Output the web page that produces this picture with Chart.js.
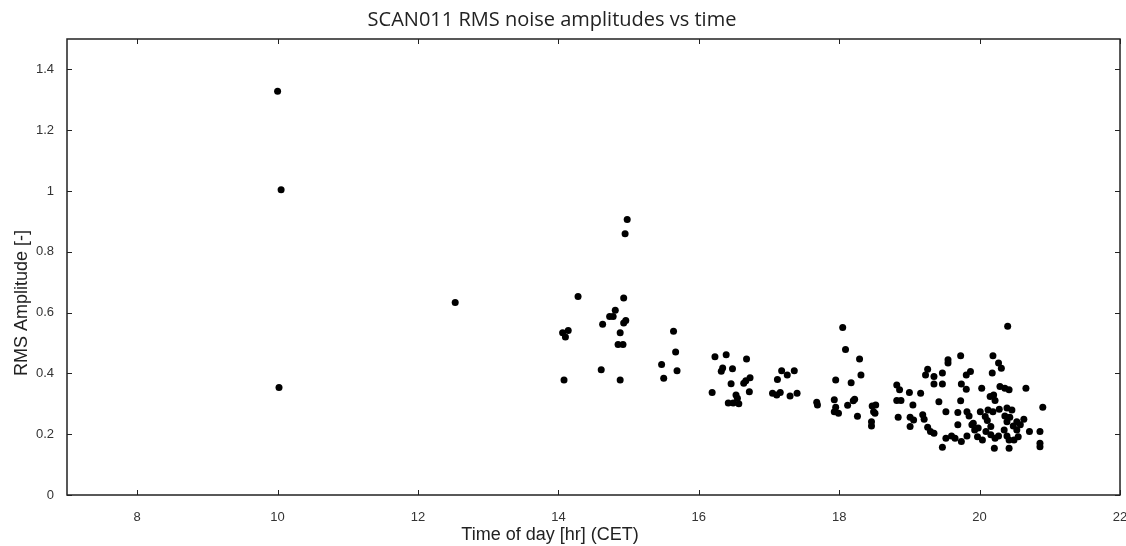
<!DOCTYPE html>
<html>
<head>
<meta charset="utf-8">
<title>SCAN011 RMS noise amplitudes vs time</title>
<script src="https://cdn.jsdelivr.net/npm/chart.js@4.4.1/dist/chart.umd.min.js"></script>
<style>
  html, body { margin: 0; padding: 0; background: #fff; }
  #wrap { width: 1126px; height: 546px; }
</style>
</head>
<body>
<div id="wrap"><canvas id="rmsChart"></canvas></div>
<script>
const chartTitle = 'SCAN011 RMS noise amplitudes vs time';
const xLabel = 'Time of day [hr] (CET)';
const yLabel = 'RMS Amplitude [-]';

const xTicks = [8, 10, 12, 14, 16, 18, 20, 22];
const yTicks = [0, 0.2, 0.4, 0.6, 0.8, 1, 1.2, 1.4];

// time of day [hr] and RMS amplitude, point by point
const timeHr = [
    10.0, 10.05, 10.02,
    12.53,
    14.06, 14.10, 14.14, 14.08, 14.28,
    14.61, 14.63, 14.73, 14.78, 14.81, 14.85, 14.92, 14.88, 14.88, 14.93, 14.93, 14.96, 14.95, 14.98,
    15.47, 15.50, 15.64, 15.67, 15.69,
    16.19, 16.23, 16.39, 16.32, 16.34, 16.48, 16.46, 16.42, 16.49, 16.57, 16.53, 16.55, 16.64, 16.67, 16.73, 16.72, 16.68,
    17.05, 17.11, 17.16, 17.12, 17.18, 17.26, 17.36, 17.30, 17.40, 17.68, 17.69,
    17.93, 17.95, 17.93, 17.99, 17.95, 18.05, 18.09, 18.12, 18.17, 18.20, 18.22, 18.26, 18.29, 18.31,
    18.47, 18.52, 18.49, 18.51, 18.46, 18.46,
    18.82, 18.86, 18.82, 18.88, 18.84,
    19.00, 19.05, 19.16, 19.01, 19.06, 19.01, 19.19, 19.21,
    19.26, 19.23, 19.35, 19.47, 19.35, 19.47, 19.42,
    19.26, 19.30, 19.35, 19.52, 19.55, 19.55, 19.73,
    19.81, 19.87, 19.74, 19.81, 19.73, 19.69, 19.82, 19.85, 19.69,
    19.52, 19.60, 19.65, 19.47, 19.74, 19.82, 19.89, 19.93,
    20.03, 20.01, 20.08, 19.91, 19.98, 19.97, 20.04,
    20.15, 20.20, 20.22, 20.19, 20.27, 20.31, 20.18,
    20.12, 20.19, 20.11, 20.16, 20.09, 20.16, 20.22, 20.27, 20.21,
    20.29, 20.36, 20.42, 20.28, 20.39, 20.46, 20.36, 20.43, 20.39,
    20.35, 20.39, 20.42, 20.42, 20.48, 20.53, 20.53, 20.58, 20.63,
    20.49, 20.55, 20.66, 20.71, 20.86, 20.86, 20.86, 20.90,
    20.40
];
const rmsAmp = [
    1.328, 1.004, 0.354,
    0.633,
    0.534, 0.520, 0.541, 0.378, 0.653,
    0.412, 0.562, 0.587, 0.587, 0.608, 0.495, 0.495, 0.534, 0.378, 0.648, 0.566, 0.574, 0.859, 0.906,
    0.429, 0.384, 0.539, 0.470, 0.409,
    0.337, 0.455, 0.461, 0.407, 0.418, 0.415, 0.366, 0.303, 0.303, 0.300, 0.329, 0.318, 0.368, 0.376, 0.386, 0.340, 0.447,
    0.335, 0.329, 0.337, 0.380, 0.409, 0.395, 0.409, 0.326, 0.335, 0.305, 0.296,
    0.313, 0.289, 0.274, 0.269, 0.378, 0.551, 0.479, 0.295, 0.369, 0.310, 0.315, 0.259, 0.447, 0.395,
    0.293, 0.296, 0.274, 0.269, 0.241, 0.227,
    0.362, 0.346, 0.311, 0.311, 0.256,
    0.337, 0.296, 0.335, 0.256, 0.247, 0.225, 0.264, 0.249,
    0.414, 0.395, 0.390, 0.401, 0.365, 0.365, 0.307,
    0.223, 0.209, 0.203, 0.274, 0.445, 0.434, 0.458,
    0.395, 0.406, 0.365, 0.348, 0.310, 0.271, 0.274, 0.260, 0.231,
    0.187, 0.194, 0.187, 0.157, 0.176, 0.194, 0.231, 0.214,
    0.351, 0.274, 0.258, 0.236, 0.220, 0.192, 0.181,
    0.324, 0.329, 0.311, 0.458, 0.434, 0.417, 0.401,
    0.280, 0.274, 0.245, 0.225, 0.209, 0.198, 0.187, 0.194, 0.154,
    0.357, 0.351, 0.346, 0.282, 0.286, 0.280, 0.260, 0.256, 0.241,
    0.214, 0.194, 0.181, 0.154, 0.227, 0.214, 0.241, 0.231, 0.249,
    0.181, 0.192, 0.351, 0.209, 0.209, 0.170, 0.159, 0.289,
    0.555
];

// box around the plot, inward tick marks and the three texts
const framePlugin = {
    id: 'frame',
    afterDraw(chart) {
        const { ctx, chartArea: a, scales: { x, y } } = chart;
        ctx.save();
        ctx.strokeStyle = '#222';
        ctx.lineWidth = 1.5;
        ctx.strokeRect(a.left, a.top, a.right - a.left, a.bottom - a.top);

        ctx.lineWidth = 1;
        ctx.beginPath();
        xTicks.forEach(v => {
            const px = Math.round(x.getPixelForValue(v)) + 0.5;
            ctx.moveTo(px, a.bottom); ctx.lineTo(px, a.bottom - 5);
            ctx.moveTo(px, a.top); ctx.lineTo(px, a.top + 5);
        });
        yTicks.forEach(v => {
            const py = Math.round(y.getPixelForValue(v)) + 0.5;
            ctx.moveTo(a.left, py); ctx.lineTo(a.left + 5, py);
            ctx.moveTo(a.right, py); ctx.lineTo(a.right - 5, py);
        });
        ctx.stroke();

        ctx.fillStyle = '#222';
        ctx.textAlign = 'center';
        ctx.textBaseline = 'middle';
        ctx.font = '20px "Open Sans", sans-serif';
        ctx.fillText(chartTitle, 552, 20);
        ctx.font = '18px "Liberation Sans", Arial, sans-serif';
        ctx.fillText(xLabel, 550, 535);
        ctx.translate(22, 303);
        ctx.rotate(-Math.PI / 2);
        ctx.fillText(yLabel, 0, 0);
        ctx.restore();
    }
};

Chart.defaults.font.family = '"Liberation Sans", Arial, sans-serif';
Chart.defaults.font.size = 13;
Chart.defaults.color = '#333';

const ctx = document.getElementById('rmsChart').getContext('2d');
new Chart(ctx, {
    type: 'scatter',
    data: {
        datasets: [{
            label: 'RMS amplitude',
            data: timeHr.map((t, i) => ({ x: t, y: rmsAmp[i] })),
            backgroundColor: '#000',
            borderWidth: 0,
            pointRadius: 3.5,
            pointHoverRadius: 3.5
        }]
    },
    options: {
        responsive: true,
        maintainAspectRatio: false,
        animation: false,
        layout: {
            padding: { top: 39, right: 6, left: 0, bottom: 0 }
        },
        plugins: {
            legend: { display: false },
            tooltip: { enabled: false }
        },
        scales: {
            x: {
                type: 'linear',
                min: 7,
                max: 22,
                grid: { display: false },
                border: { display: false },
                ticks: { padding: 7, maxRotation: 0 },
                afterBuildTicks: scale => { scale.ticks = xTicks.map(v => ({ value: v })); },
                afterFit: scale => {
                    scale.height = 51;
                    scale.paddingLeft = 0;
                    scale.paddingRight = 0;
                }
            },
            y: {
                min: 0,
                max: 1.5,
                grid: { display: false },
                border: { display: false },
                ticks: { padding: 5, callback: v => String(v) },
                afterBuildTicks: scale => { scale.ticks = yTicks.map(v => ({ value: v })); },
                afterFit: scale => {
                    scale.width = 67;
                    scale.paddingTop = 0;
                    scale.paddingBottom = 0;
                }
            }
        }
    },
    plugins: [framePlugin]
});
</script>
</body>
</html>
